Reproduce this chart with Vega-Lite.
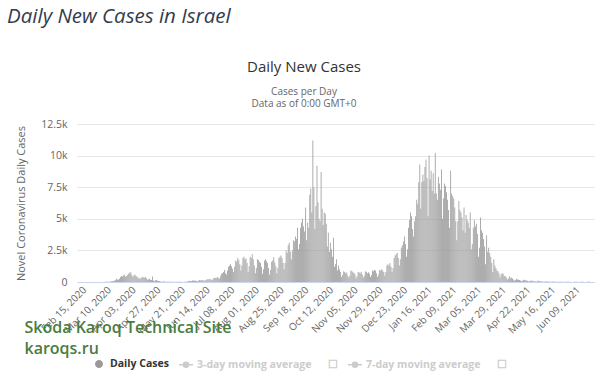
{
  "$schema": "https://vega.github.io/schema/vega-lite/v6.json",
  "padding": {"left": 7, "top": 7, "right": 0, "bottom": 0},
  "background": "white",
  "config": {"font": "Open Sans", "view": {"stroke": null}},
  "title": {"text": "Daily New Cases in Israel", "anchor": "start", "frame": "group", "dx": -70, "fontSize": 20.5, "fontStyle": "italic", "fontWeight": "normal", "color": "#333d4d", "font": "Open Sans", "offset": 32},
  "vconcat": [
    {
      "width": 518,
      "height": 158,
      "title": {"text": "Daily New Cases", "subtitle": ["Cases per Day", "Data as of 0:00 GMT+0"], "anchor": "middle", "dx": -32, "fontSize": 15, "fontWeight": "normal", "color": "#333333", "subtitleFontSize": 10, "subtitleColor": "#666666", "subtitleLineHeight": 12.5, "subtitlePadding": 12, "offset": 10},
      "data": {"values": [
{"d":"2020-02-15","v":0},{"d":"2020-02-16","v":0},{"d":"2020-02-17","v":0},{"d":"2020-02-18","v":0},{"d":"2020-02-19","v":0},{"d":"2020-02-20","v":0},{"d":"2020-02-21","v":1},{"d":"2020-02-22","v":0},{"d":"2020-02-23","v":0},{"d":"2020-02-24","v":0},{"d":"2020-02-25","v":1},{"d":"2020-02-26","v":0},{"d":"2020-02-27","v":0},{"d":"2020-02-28","v":0},{"d":"2020-02-29","v":3},
{"d":"2020-03-01","v":3},{"d":"2020-03-02","v":2},{"d":"2020-03-03","v":3},{"d":"2020-03-04","v":2},{"d":"2020-03-05","v":4},{"d":"2020-03-06","v":5},{"d":"2020-03-07","v":5},{"d":"2020-03-08","v":11},{"d":"2020-03-09","v":10},{"d":"2020-03-10","v":17},{"d":"2020-03-11","v":12},{"d":"2020-03-12","v":20},{"d":"2020-03-13","v":30},{"d":"2020-03-14","v":52},{"d":"2020-03-15","v":70},{"d":"2020-03-16","v":55},{"d":"2020-03-17","v":110},{"d":"2020-03-18","v":140},{"d":"2020-03-19","v":250},{"d":"2020-03-20","v":200},{"d":"2020-03-21","v":180},{"d":"2020-03-22","v":280},{"d":"2020-03-23","v":400},{"d":"2020-03-24","v":480},{"d":"2020-03-25","v":430},{"d":"2020-03-26","v":520},{"d":"2020-03-27","v":580},{"d":"2020-03-28","v":410},{"d":"2020-03-29","v":480},{"d":"2020-03-30","v":580},{"d":"2020-03-31","v":680},
{"d":"2020-04-01","v":730},{"d":"2020-04-02","v":780},{"d":"2020-04-03","v":560},{"d":"2020-04-04","v":420},{"d":"2020-04-05","v":520},{"d":"2020-04-06","v":600},{"d":"2020-04-07","v":480},{"d":"2020-04-08","v":420},{"d":"2020-04-09","v":300},{"d":"2020-04-10","v":330},{"d":"2020-04-11","v":240},{"d":"2020-04-12","v":310},{"d":"2020-04-13","v":420},{"d":"2020-04-14","v":380},{"d":"2020-04-15","v":330},{"d":"2020-04-16","v":390},{"d":"2020-04-17","v":310},{"d":"2020-04-18","v":180},{"d":"2020-04-19","v":210},{"d":"2020-04-20","v":260},{"d":"2020-04-21","v":180},{"d":"2020-04-22","v":150},{"d":"2020-04-23","v":430},{"d":"2020-04-24","v":120},{"d":"2020-04-25","v":60},{"d":"2020-04-26","v":130},{"d":"2020-04-27","v":160},{"d":"2020-04-28","v":90},{"d":"2020-04-29","v":70},{"d":"2020-04-30","v":80},
{"d":"2020-05-01","v":40},{"d":"2020-05-02","v":25},{"d":"2020-05-03","v":45},{"d":"2020-05-04","v":50},{"d":"2020-05-05","v":30},{"d":"2020-05-06","v":25},{"d":"2020-05-07","v":20},{"d":"2020-05-08","v":15},{"d":"2020-05-09","v":12},{"d":"2020-05-10","v":20},{"d":"2020-05-11","v":25},{"d":"2020-05-12","v":15},{"d":"2020-05-13","v":18},{"d":"2020-05-14","v":10},{"d":"2020-05-15","v":8},{"d":"2020-05-16","v":10},{"d":"2020-05-17","v":15},{"d":"2020-05-18","v":20},{"d":"2020-05-19","v":12},{"d":"2020-05-20","v":15},{"d":"2020-05-21","v":10},{"d":"2020-05-22","v":8},{"d":"2020-05-23","v":6},{"d":"2020-05-24","v":10},{"d":"2020-05-25","v":15},{"d":"2020-05-26","v":20},{"d":"2020-05-27","v":40},{"d":"2020-05-28","v":60},{"d":"2020-05-29","v":90},{"d":"2020-05-30","v":50},{"d":"2020-05-31","v":70},
{"d":"2020-06-01","v":120},{"d":"2020-06-02","v":110},{"d":"2020-06-03","v":100},{"d":"2020-06-04","v":120},{"d":"2020-06-05","v":80},{"d":"2020-06-06","v":60},{"d":"2020-06-07","v":110},{"d":"2020-06-08","v":150},{"d":"2020-06-09","v":140},{"d":"2020-06-10","v":130},{"d":"2020-06-11","v":160},{"d":"2020-06-12","v":110},{"d":"2020-06-13","v":90},{"d":"2020-06-14","v":150},{"d":"2020-06-15","v":200},{"d":"2020-06-16","v":230},{"d":"2020-06-17","v":200},{"d":"2020-06-18","v":250},{"d":"2020-06-19","v":180},{"d":"2020-06-20","v":150},{"d":"2020-06-21","v":260},{"d":"2020-06-22","v":320},{"d":"2020-06-23","v":330},{"d":"2020-06-24","v":300},{"d":"2020-06-25","v":400},{"d":"2020-06-26","v":320},{"d":"2020-06-27","v":250},{"d":"2020-06-28","v":450},{"d":"2020-06-29","v":650},{"d":"2020-06-30","v":700},
{"d":"2020-07-01","v":800},{"d":"2020-07-02","v":950},{"d":"2020-07-03","v":700},{"d":"2020-07-04","v":600},{"d":"2020-07-05","v":900},{"d":"2020-07-06","v":1200},{"d":"2020-07-07","v":1300},{"d":"2020-07-08","v":1400},{"d":"2020-07-09","v":1250},{"d":"2020-07-10","v":1050},{"d":"2020-07-11","v":800},{"d":"2020-07-12","v":1200},{"d":"2020-07-13","v":1700},{"d":"2020-07-14","v":1600},{"d":"2020-07-15","v":1900},{"d":"2020-07-16","v":1750},{"d":"2020-07-17","v":1400},{"d":"2020-07-18","v":900},{"d":"2020-07-19","v":1300},{"d":"2020-07-20","v":1900},{"d":"2020-07-21","v":2000},{"d":"2020-07-22","v":1800},{"d":"2020-07-23","v":1850},{"d":"2020-07-24","v":1500},{"d":"2020-07-25","v":800},{"d":"2020-07-26","v":1250},{"d":"2020-07-27","v":2000},{"d":"2020-07-28","v":1900},{"d":"2020-07-29","v":2200},{"d":"2020-07-30","v":1800},{"d":"2020-07-31","v":1300},
{"d":"2020-08-01","v":700},{"d":"2020-08-02","v":1100},{"d":"2020-08-03","v":1800},{"d":"2020-08-04","v":1750},{"d":"2020-08-05","v":1600},{"d":"2020-08-06","v":1500},{"d":"2020-08-07","v":1200},{"d":"2020-08-08","v":650},{"d":"2020-08-09","v":1000},{"d":"2020-08-10","v":1700},{"d":"2020-08-11","v":1800},{"d":"2020-08-12","v":1650},{"d":"2020-08-13","v":1500},{"d":"2020-08-14","v":1100},{"d":"2020-08-15","v":600},{"d":"2020-08-16","v":950},{"d":"2020-08-17","v":1600},{"d":"2020-08-18","v":1700},{"d":"2020-08-19","v":1950},{"d":"2020-08-20","v":1550},{"d":"2020-08-21","v":1250},{"d":"2020-08-22","v":700},{"d":"2020-08-23","v":1100},{"d":"2020-08-24","v":1900},{"d":"2020-08-25","v":2000},{"d":"2020-08-26","v":2100},{"d":"2020-08-27","v":1900},{"d":"2020-08-28","v":1500},{"d":"2020-08-29","v":1000},{"d":"2020-08-30","v":1500},{"d":"2020-08-31","v":2500},
{"d":"2020-09-01","v":2300},{"d":"2020-09-02","v":2900},{"d":"2020-09-03","v":3100},{"d":"2020-09-04","v":2400},{"d":"2020-09-05","v":1800},{"d":"2020-09-06","v":2500},{"d":"2020-09-07","v":3300},{"d":"2020-09-08","v":3200},{"d":"2020-09-09","v":3600},{"d":"2020-09-10","v":3400},{"d":"2020-09-11","v":4300},{"d":"2020-09-12","v":2600},{"d":"2020-09-13","v":3000},{"d":"2020-09-14","v":4300},{"d":"2020-09-15","v":4700},{"d":"2020-09-16","v":5000},{"d":"2020-09-17","v":4400},{"d":"2020-09-18","v":4000},{"d":"2020-09-19","v":5900},{"d":"2020-09-20","v":3300},{"d":"2020-09-21","v":4700},{"d":"2020-09-22","v":4300},{"d":"2020-09-23","v":6900},{"d":"2020-09-24","v":7400},{"d":"2020-09-25","v":5500},{"d":"2020-09-26","v":11200},{"d":"2020-09-27","v":7500},{"d":"2020-09-28","v":4200},{"d":"2020-09-29","v":6000},{"d":"2020-09-30","v":9200},
{"d":"2020-10-01","v":6300},{"d":"2020-10-02","v":5000},{"d":"2020-10-03","v":4800},{"d":"2020-10-04","v":8700},{"d":"2020-10-05","v":5800},{"d":"2020-10-06","v":4500},{"d":"2020-10-07","v":5500},{"d":"2020-10-08","v":5400},{"d":"2020-10-09","v":4600},{"d":"2020-10-10","v":2800},{"d":"2020-10-11","v":3900},{"d":"2020-10-12","v":2400},{"d":"2020-10-13","v":3100},{"d":"2020-10-14","v":2600},{"d":"2020-10-15","v":2000},{"d":"2020-10-16","v":3500},{"d":"2020-10-17","v":1200},{"d":"2020-10-18","v":1400},{"d":"2020-10-19","v":1800},{"d":"2020-10-20","v":900},{"d":"2020-10-21","v":1300},{"d":"2020-10-22","v":1000},{"d":"2020-10-23","v":800},{"d":"2020-10-24","v":400},{"d":"2020-10-25","v":550},{"d":"2020-10-26","v":850},{"d":"2020-10-27","v":800},{"d":"2020-10-28","v":700},{"d":"2020-10-29","v":750},{"d":"2020-10-30","v":500},{"d":"2020-10-31","v":350},
{"d":"2020-11-01","v":500},{"d":"2020-11-02","v":900},{"d":"2020-11-03","v":850},{"d":"2020-11-04","v":780},{"d":"2020-11-05","v":720},{"d":"2020-11-06","v":600},{"d":"2020-11-07","v":300},{"d":"2020-11-08","v":450},{"d":"2020-11-09","v":800},{"d":"2020-11-10","v":750},{"d":"2020-11-11","v":700},{"d":"2020-11-12","v":820},{"d":"2020-11-13","v":600},{"d":"2020-11-14","v":350},{"d":"2020-11-15","v":500},{"d":"2020-11-16","v":850},{"d":"2020-11-17","v":800},{"d":"2020-11-18","v":700},{"d":"2020-11-19","v":780},{"d":"2020-11-20","v":650},{"d":"2020-11-21","v":400},{"d":"2020-11-22","v":550},{"d":"2020-11-23","v":900},{"d":"2020-11-24","v":850},{"d":"2020-11-25","v":950},{"d":"2020-11-26","v":900},{"d":"2020-11-27","v":700},{"d":"2020-11-28","v":400},{"d":"2020-11-29","v":600},{"d":"2020-11-30","v":950},
{"d":"2020-12-01","v":900},{"d":"2020-12-02","v":1000},{"d":"2020-12-03","v":900},{"d":"2020-12-04","v":800},{"d":"2020-12-05","v":500},{"d":"2020-12-06","v":800},{"d":"2020-12-07","v":1300},{"d":"2020-12-08","v":1400},{"d":"2020-12-09","v":1300},{"d":"2020-12-10","v":1500},{"d":"2020-12-11","v":1200},{"d":"2020-12-12","v":800},{"d":"2020-12-13","v":1100},{"d":"2020-12-14","v":1900},{"d":"2020-12-15","v":2100},{"d":"2020-12-16","v":2200},{"d":"2020-12-17","v":2300},{"d":"2020-12-18","v":1900},{"d":"2020-12-19","v":1300},{"d":"2020-12-20","v":1800},{"d":"2020-12-21","v":2700},{"d":"2020-12-22","v":2900},{"d":"2020-12-23","v":3200},{"d":"2020-12-24","v":3600},{"d":"2020-12-25","v":3000},{"d":"2020-12-26","v":2000},{"d":"2020-12-27","v":2600},{"d":"2020-12-28","v":4300},{"d":"2020-12-29","v":4900},{"d":"2020-12-30","v":5500},{"d":"2020-12-31","v":5200},
{"d":"2021-01-01","v":4200},{"d":"2021-01-02","v":3600},{"d":"2021-01-03","v":4800},{"d":"2021-01-04","v":5200},{"d":"2021-01-05","v":6500},{"d":"2021-01-06","v":6200},{"d":"2021-01-07","v":7900},{"d":"2021-01-08","v":9300},{"d":"2021-01-09","v":5800},{"d":"2021-01-10","v":7900},{"d":"2021-01-11","v":8500},{"d":"2021-01-12","v":8000},{"d":"2021-01-13","v":9100},{"d":"2021-01-14","v":9700},{"d":"2021-01-15","v":8200},{"d":"2021-01-16","v":5200},{"d":"2021-01-17","v":10000},{"d":"2021-01-18","v":8100},{"d":"2021-01-19","v":8800},{"d":"2021-01-20","v":7200},{"d":"2021-01-21","v":8600},{"d":"2021-01-22","v":7000},{"d":"2021-01-23","v":10200},{"d":"2021-01-24","v":7000},{"d":"2021-01-25","v":6500},{"d":"2021-01-26","v":8300},{"d":"2021-01-27","v":7800},{"d":"2021-01-28","v":7300},{"d":"2021-01-29","v":8900},{"d":"2021-01-30","v":5000},{"d":"2021-01-31","v":6600},
{"d":"2021-02-01","v":7800},{"d":"2021-02-02","v":7600},{"d":"2021-02-03","v":7100},{"d":"2021-02-04","v":6500},{"d":"2021-02-05","v":5700},{"d":"2021-02-06","v":4300},{"d":"2021-02-07","v":8800},{"d":"2021-02-08","v":7000},{"d":"2021-02-09","v":6800},{"d":"2021-02-10","v":6600},{"d":"2021-02-11","v":5900},{"d":"2021-02-12","v":4800},{"d":"2021-02-13","v":3300},{"d":"2021-02-14","v":4800},{"d":"2021-02-15","v":6400},{"d":"2021-02-16","v":5700},{"d":"2021-02-17","v":5500},{"d":"2021-02-18","v":5100},{"d":"2021-02-19","v":4100},{"d":"2021-02-20","v":5900},{"d":"2021-02-21","v":3900},{"d":"2021-02-22","v":5300},{"d":"2021-02-23","v":4900},{"d":"2021-02-24","v":4700},{"d":"2021-02-25","v":4300},{"d":"2021-02-26","v":5500},{"d":"2021-02-27","v":2600},{"d":"2021-02-28","v":3000},
{"d":"2021-03-01","v":4300},{"d":"2021-03-02","v":4900},{"d":"2021-03-03","v":4400},{"d":"2021-03-04","v":4600},{"d":"2021-03-05","v":3800},{"d":"2021-03-06","v":2000},{"d":"2021-03-07","v":2700},{"d":"2021-03-08","v":5100},{"d":"2021-03-09","v":4100},{"d":"2021-03-10","v":3900},{"d":"2021-03-11","v":3400},{"d":"2021-03-12","v":2800},{"d":"2021-03-13","v":1400},{"d":"2021-03-14","v":3700},{"d":"2021-03-15","v":2400},{"d":"2021-03-16","v":2700},{"d":"2021-03-17","v":2300},{"d":"2021-03-18","v":2000},{"d":"2021-03-19","v":1500},{"d":"2021-03-20","v":800},{"d":"2021-03-21","v":1800},{"d":"2021-03-22","v":1300},{"d":"2021-03-23","v":1100},{"d":"2021-03-24","v":900},{"d":"2021-03-25","v":850},{"d":"2021-03-26","v":700},{"d":"2021-03-27","v":350},{"d":"2021-03-28","v":600},{"d":"2021-03-29","v":700},{"d":"2021-03-30","v":650},{"d":"2021-03-31","v":500},
{"d":"2021-04-01","v":450},{"d":"2021-04-02","v":380},{"d":"2021-04-03","v":200},{"d":"2021-04-04","v":250},{"d":"2021-04-05","v":450},{"d":"2021-04-06","v":300},{"d":"2021-04-07","v":350},{"d":"2021-04-08","v":280},{"d":"2021-04-09","v":200},{"d":"2021-04-10","v":100},{"d":"2021-04-11","v":150},{"d":"2021-04-12","v":250},{"d":"2021-04-13","v":200},{"d":"2021-04-14","v":180},{"d":"2021-04-15","v":160},{"d":"2021-04-16","v":120},{"d":"2021-04-17","v":60},{"d":"2021-04-18","v":100},{"d":"2021-04-19","v":170},{"d":"2021-04-20","v":150},{"d":"2021-04-21","v":130},{"d":"2021-04-22","v":120},{"d":"2021-04-23","v":90},{"d":"2021-04-24","v":40},{"d":"2021-04-25","v":70},{"d":"2021-04-26","v":110},{"d":"2021-04-27","v":100},{"d":"2021-04-28","v":90},{"d":"2021-04-29","v":80},{"d":"2021-04-30","v":60},
{"d":"2021-05-01","v":30},{"d":"2021-05-02","v":50},{"d":"2021-05-03","v":120},{"d":"2021-05-04","v":60},{"d":"2021-05-05","v":70},{"d":"2021-05-06","v":50},{"d":"2021-05-07","v":40},{"d":"2021-05-08","v":20},{"d":"2021-05-09","v":30},{"d":"2021-05-10","v":45},{"d":"2021-05-11","v":40},{"d":"2021-05-12","v":35},{"d":"2021-05-13","v":30},{"d":"2021-05-14","v":25},{"d":"2021-05-15","v":12},{"d":"2021-05-16","v":20},{"d":"2021-05-17","v":35},{"d":"2021-05-18","v":30},{"d":"2021-05-19","v":25},{"d":"2021-05-20","v":20},{"d":"2021-05-21","v":15},{"d":"2021-05-22","v":10},{"d":"2021-05-23","v":15},{"d":"2021-05-24","v":25},{"d":"2021-05-25","v":20},{"d":"2021-05-26","v":15},{"d":"2021-05-27","v":15},{"d":"2021-05-28","v":10},{"d":"2021-05-29","v":8},{"d":"2021-05-30","v":12},{"d":"2021-05-31","v":20},
{"d":"2021-06-01","v":15},{"d":"2021-06-02","v":12},{"d":"2021-06-03","v":10},{"d":"2021-06-04","v":8},{"d":"2021-06-05","v":5},{"d":"2021-06-06","v":8},{"d":"2021-06-07","v":15},{"d":"2021-06-08","v":12},{"d":"2021-06-09","v":10},{"d":"2021-06-10","v":10},{"d":"2021-06-11","v":6},{"d":"2021-06-12","v":5},{"d":"2021-06-13","v":10},{"d":"2021-06-14","v":15},{"d":"2021-06-15","v":12},{"d":"2021-06-16","v":10},{"d":"2021-06-17","v":8},{"d":"2021-06-18","v":6},{"d":"2021-06-19","v":8},{"d":"2021-06-20","v":15},{"d":"2021-06-21","v":25},{"d":"2021-06-22","v":30}
      ]},
      "mark": {"type": "bar", "width": 0.8},
      "encoding": {
        "x": {
          "field": "d", "type": "temporal",
          "scale": {"type": "utc", "domain": [{"year": 2020, "month": 2, "date": 14, "hours": 12, "utc": true}, {"year": 2021, "month": 6, "date": 22, "hours": 12, "utc": true}]},
          "axis": {
            "values": [
              {"year": 2020, "month": 2, "date": 15, "utc": true}, {"year": 2020, "month": 3, "date": 10, "utc": true}, {"year": 2020, "month": 4, "date": 3, "utc": true}, {"year": 2020, "month": 4, "date": 27, "utc": true}, {"year": 2020, "month": 5, "date": 21, "utc": true}, {"year": 2020, "month": 6, "date": 14, "utc": true}, {"year": 2020, "month": 7, "date": 8, "utc": true}, {"year": 2020, "month": 8, "date": 1, "utc": true}, {"year": 2020, "month": 8, "date": 25, "utc": true}, {"year": 2020, "month": 9, "date": 18, "utc": true}, {"year": 2020, "month": 10, "date": 12, "utc": true}, {"year": 2020, "month": 11, "date": 5, "utc": true}, {"year": 2020, "month": 11, "date": 29, "utc": true}, {"year": 2020, "month": 12, "date": 23, "utc": true},
              {"year": 2021, "month": 1, "date": 16, "utc": true}, {"year": 2021, "month": 2, "date": 9, "utc": true}, {"year": 2021, "month": 3, "date": 5, "utc": true}, {"year": 2021, "month": 3, "date": 29, "utc": true}, {"year": 2021, "month": 4, "date": 22, "utc": true}, {"year": 2021, "month": 5, "date": 16, "utc": true}, {"year": 2021, "month": 6, "date": 9, "utc": true}
            ],
            "format": "%b %d, %Y",
            "labelAngle": -45, "labelAlign": "right", "labelBaseline": "middle",
            "labelFontSize": 10, "labelColor": "#666666", "labelPadding": 6, "labelOffset": 2,
            "labelOverlap": false, "labelBound": false, "labelFlush": false,
            "ticks": false, "grid": false, "domainColor": "#ccd6eb", "domainWidth": 1,
            "title": ["Skoda Karoq Technical Site", "karoqs.ru"],
            "titleColor": "#4a7c40", "titleFontSize": 16, "titleFontWeight": 600,
            "titleAnchor": "start", "titleAlign": "left", "titleBaseline": "alphabetic",
            "titleX": -53, "titleY": 50, "titleLineHeight": 21
          }
        },
        "y": {
          "field": "v", "type": "quantitative",
          "scale": {"domain": [0, 12500], "nice": false},
          "axis": {
            "values": [0, 2500, 5000, 7500, 10000, 12500], "labelExpr": "format(datum.value, '~s')",
            "title": "Novel Coronavirus Daily Cases", "titleColor": "#666666", "titleFontSize": 11, "titleFontWeight": "normal", "titlePadding": 14,
            "labelColor": "#666666", "labelFontSize": 10.5, "labelPadding": 10,
            "ticks": false, "domain": false, "gridColor": "#e6e6e6", "gridWidth": 1
          }
        },
        "color": {
          "datum": "Daily Cases", "type": "nominal",
          "scale": {"domain": ["Daily Cases", "3-day moving average", "7-day moving average"], "range": ["#999999", "#cccccc", "#cccccc"]},
          "legend": {
            "orient": "none", "legendX": 14, "legendY": 232, "direction": "horizontal", "title": null,
            "padding": 0, "labelFont": "Open Sans", "labelFontSize": 10.5, "labelFontWeight": "bold", "labelColor": "#333333",
            "symbolSize": 196, "labelOffset": 3, "columnPadding": 7, "labelLimit": 300,
            "labelExpr": "datum.value === 'Daily Cases' ? 'Daily Cases\u00a0\u00a0\u00a0\u00a0\u00a0\u00a0\u00a0' : datum.value + '\u00a0\u00a0\u00a0\u00a0\u00a0\u00a0\u2610'",
            "encode": {
              "symbols": {"update": {
                "shape": {"signal": "datum.value === 'Daily Cases' ? 'M0.57,0A0.57,0.57,0,1,1,-0.57,0A0.57,0.57,0,1,1,0.57,0Z' : 'M-1,0H1M0.36,0A0.36,0.36,0,1,1,-0.36,0A0.36,0.36,0,1,1,0.36,0Z'"},
                "stroke": {"signal": "datum.value === 'Daily Cases' ? 'transparent' : '#cccccc'"},
                "strokeWidth": {"value": 1.5},
                "opacity": {"value": 1}
              }},
              "labels": {"update": {"fill": {"signal": "datum.value === 'Daily Cases' ? '#333333' : '#cccccc'"}}}
            }
          }
        }
      }
    }
  ]
}
